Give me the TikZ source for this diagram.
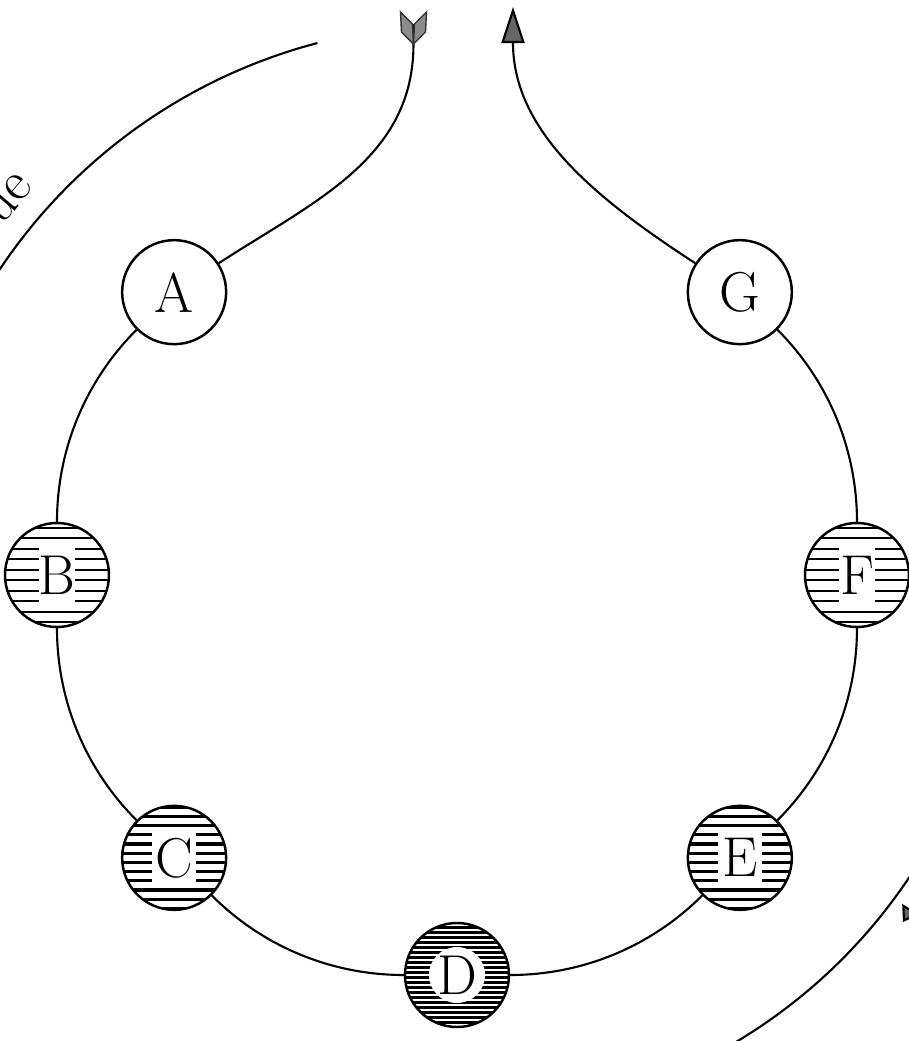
\documentclass[tikz,border=0pt]{standalone}
\usetikzlibrary{arrows.meta}

\begin{document}
\begin{tikzpicture}[
  link/.style={line width=0.6pt},
  ball/.style={circle, draw, line width=0.7pt, minimum size=1.04cm, inner sep=0pt,
    fill=white, font=\fontsize{16}{18}\selectfont},
  lightball/.style={ball, path picture={
    \foreach \k in {-5,...,4}
      \draw[line width=0.55pt] ([shift={(-0.6,{(\k+0.5)*0.105})}]path picture bounding box.center) -- ++(1.2,0);
    \fill[white] ([shift={(-0.18,-0.28)}]path picture bounding box.center) rectangle ++(0.36,0.56);
  }},
  midball/.style={ball, path picture={
    \foreach \k in {-6,...,5}
      \draw[line width=0.9pt] ([shift={(-0.6,{(\k+0.5)*0.092})}]path picture bounding box.center) -- ++(1.2,0);
    \fill[white] ([shift={(-0.22,-0.29)}]path picture bounding box.center) rectangle ++(0.44,0.58);
  }},
  darkball/.style={ball, path picture={
    \foreach \k in {-11,...,10}
      \draw[line width=1pt] ([shift={(-0.6,{(\k+0.5)*0.05})}]path picture bounding box.center) -- ++(1.2,0);
    \fill[white] (path picture bounding box.center) circle (0.28);
  }},
  vane/.style={fill=black!45, draw=black!80, line width=0.4pt},
  tip/.style={-{Triangle[length=3.6mm, width=2.3mm, fill=black!60]}},
]
\useasboundingbox (-4.57,-4.66) rectangle (4.52,5.75);
\clip (-4.57,-4.66) rectangle (4.52,5.75);

% outer arcs, cut by the page
\draw[link] (150:5.5) arc[start angle=150, end angle=104.7, radius=5.5];
\draw[link] (-64:5.44) arc[start angle=-64, end angle=-28, radius=5.44];
\node[rotate=49.5, anchor=base east, font=\fontsize{16}{18}\selectfont] (word) at (136.2:5.74) {ue};

% ring
\node[ball] (A) at (135:4) {A};
\node[lightball] (B) at (180:4) {B};
\node[midball] (C) at (225:4) {C};
\node[darkball] (D) at (270:4) {D};
\node[midball] (E) at (315:4) {E};
\node[lightball] (F) at (0:4) {F};
\node[ball] (G) at (45:4) {G};

\draw[link] (A) to[bend right=22.5, looseness=0.89] (B);
\draw[link] (B) to[bend right=22.5, looseness=0.89] (C);
\draw[link] (C) to[bend right=22.5, looseness=0.89] (D);
\draw[link] (D) to[bend right=22.5, looseness=0.89] (E);
\draw[link] (E) to[bend right=22.5, looseness=0.89] (F);
\draw[link] (F) to[bend right=22.5, looseness=0.89] (G);

% way out and way in
\coordinate (tail) at (-0.435,5.31);
\coordinate (head) at (0.56,5.68);
\draw[link] (A) to[out=33, in=-90] (tail) -- ++(0,0.2);
\fill[vane] (tail) -- ++(-0.12,0.12) -- ++(-0.01,0.2) -- ++(0.12,-0.12) -- cycle;
\fill[vane] (tail) -- ++(0.12,0.12) -- ++(0.01,0.2) -- ++(-0.12,-0.12) -- cycle;
\draw[link, tip] (G) to[out=147, in=-90] (head);

% arrow tip at the right edge
\coordinate (stub) at (5.0,-2.6);
\coordinate (stubtip) at (4.46,-3.47);
\draw[link, -{Triangle[length=1.5mm, width=2mm, fill=black!60]}] (stub) -- (stubtip);
\end{tikzpicture}
\end{document}
